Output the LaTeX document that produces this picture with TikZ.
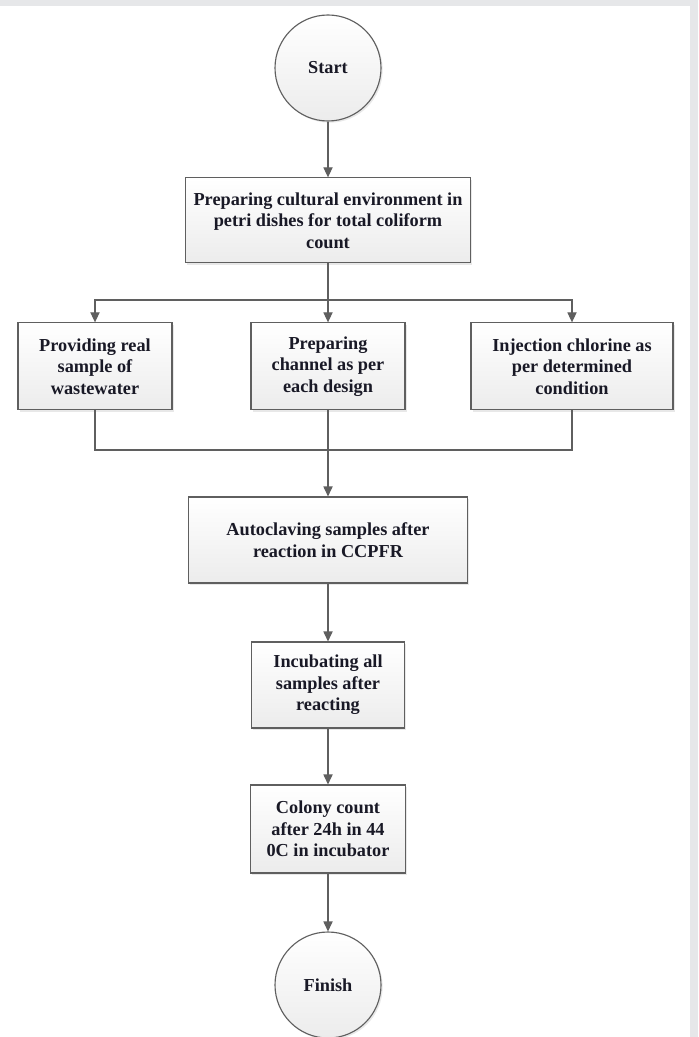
\documentclass[tikz,border=0pt]{standalone}
\usepackage{fontspec}
\setmainfont{Liberation Serif}
\usetikzlibrary{arrows.meta,shadows}

\definecolor{framegray}{RGB}{230,231,233}
\definecolor{linegray}{RGB}{95,95,95}
\definecolor{textnavy}{RGB}{25,25,38}

\tikzset{
    stepbox/.style={draw=linegray, line width=0.8pt, top color=white, bottom color=gray!15,
        align=center, inner sep=0pt, text=textnavy,
        font=\fontsize{13}{15.3}\selectfont\bfseries,
        drop shadow={opacity=0.18, shadow xshift=1.2pt, shadow yshift=-1.2pt}},
    terminal/.style={stepbox, circle, minimum size=2.65cm},
    flow/.style={draw=linegray, line width=0.8pt, -{Triangle[width=0.23cm,length=0.25cm]}},
    link/.style={draw=linegray, line width=0.8pt}
}

\begin{document}
\begin{tikzpicture}
    \useasboundingbox (0,0) rectangle (17.45,-25.925);
    \fill[framegray] (0,0) rectangle (17.45,-25.925);
    \fill[white] (0,-0.15) rectangle (17.25,-25.925);

    \node[terminal] (start) at (8.2,-1.7) {Start};
    \node[stepbox, minimum width=7.125cm, minimum height=2.125cm] (prep) at (8.2,-5.51)
        {Preparing cultural environment in\\petri dishes for total coliform\\count};

    \node[stepbox, minimum width=3.85cm, minimum height=2.175cm] (real) at (2.375,-9.16)
        {Providing real\\sample of\\wastewater};
    \node[stepbox, minimum width=3.85cm, minimum height=2.175cm] (chan) at (8.2,-9.16)
        {Preparing\\channel as per\\each design};
    \node[stepbox, minimum width=5.05cm, minimum height=2.175cm] (chl) at (14.3,-9.16)
        {Injection chlorine as\\per determined\\condition};

    \node[stepbox, minimum width=6.975cm, minimum height=2.15cm] (auto) at (8.2,-13.5)
        {Autoclaving samples after\\reaction in CCPFR};
    \node[stepbox, minimum width=3.825cm, minimum height=2.15cm] (incub) at (8.2,-17.125)
        {Incubating all\\samples after\\reacting};
    \node[stepbox, minimum width=3.875cm, minimum height=2.2cm] (colony) at (8.2,-20.725)
        {Colony count\\after 24h in 44\\0C in incubator};
    \node[terminal] (finish) at (8.2,-24.625) {Finish};

    \coordinate (split) at (8.2,-7.5);
    \coordinate (merge) at (8.2,-11.25);

    \draw[flow] (start) -- (prep);
    \draw[flow] (prep) -- (chan);
    \draw[flow] (split) -| (real);
    \draw[flow] (split) -| (chl);
    \draw[link] (real) |- (merge);
    \draw[link] (chl) |- (merge);

    \foreach \from/\to in {chan/auto, auto/incub, incub/colony, colony/finish}
    {
        \draw[flow] (\from) -- (\to);
    }
\end{tikzpicture}
\end{document}
